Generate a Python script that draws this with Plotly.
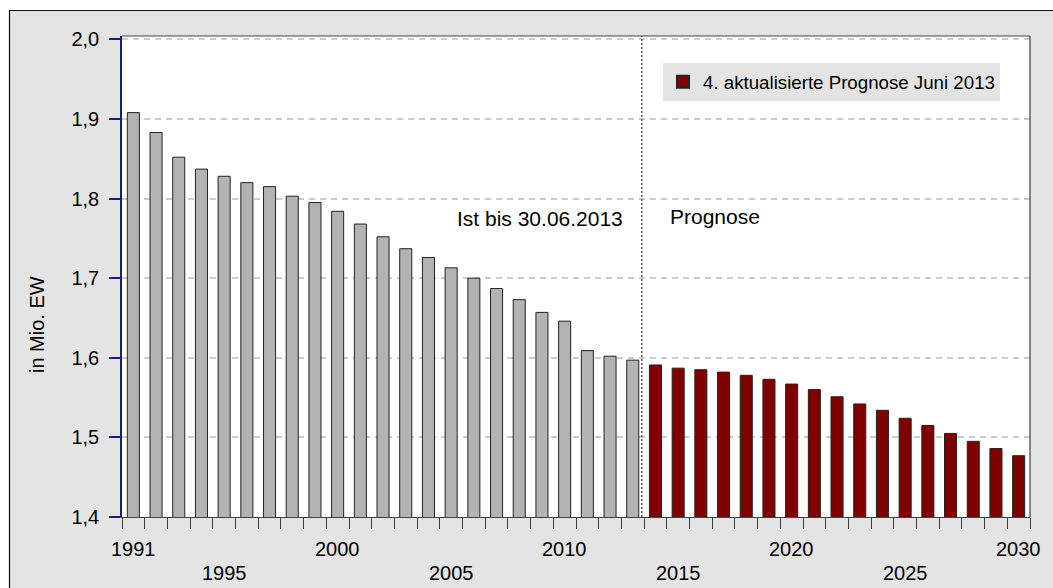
import plotly.graph_objects as go

# ---- data ----
years_actual = list(range(1991, 2014))
values_actual = [1.908, 1.883, 1.852, 1.837, 1.828, 1.820, 1.815, 1.803, 1.795, 1.784,
                 1.768, 1.752, 1.737, 1.726, 1.713, 1.700, 1.687, 1.673, 1.657, 1.646,
                 1.609, 1.602, 1.597]
years_forecast = list(range(2014, 2031))
values_forecast = [1.591, 1.587, 1.585, 1.582, 1.578, 1.573, 1.567, 1.560, 1.551, 1.542,
                   1.534, 1.524, 1.515, 1.505, 1.495, 1.486, 1.477]
forecast_name = "4. aktualisierte Prognose Juni 2013"
labels_row1 = [1991, 2000, 2010, 2020, 2030]
labels_row2 = [1995, 2005, 2015, 2025]
y_ticks = [1.4, 1.5, 1.6, 1.7, 1.8, 1.9, 2.0]
y_title = "in Mio. EW"
text_actual = "Ist bis 30.06.2013"
text_forecast = "Prognose"
split_year = 2013.4

FONT = "Liberation Sans, Arial, sans-serif"
W, H = 1053, 588
L, R, T, B = 122, 23, 36, 71
PW, PH = W - L - R, H - T - B

def px_x(p):
    return (p - L) / PW

def px_y(p):
    return (H - B - p) / PH

fig = go.Figure()
fig.add_trace(go.Bar(x=years_actual, y=values_actual, width=0.53,
                     marker=dict(color="#b3b3b3", line=dict(color="#222222", width=1)),
                     showlegend=False, name="Ist"))
fig.add_trace(go.Bar(x=years_forecast, y=values_forecast, width=0.53,
                     marker=dict(color="#800000", line=dict(color="#222222", width=1)),
                     showlegend=True, name=forecast_name))

boundaries = [y - 0.5 for y in range(years_actual[0], years_forecast[-1] + 2)]

fig.update_xaxes(type="linear", range=[years_actual[0] - 0.5, years_forecast[-1] + 0.5],
                 tickmode="array", tickvals=boundaries, showticklabels=False,
                 ticks="outside", ticklen=11, tickwidth=1.2, tickcolor="#404040",
                 showline=True, linecolor="#404040", linewidth=1.2,
                 showgrid=False, zeroline=False)
fig.update_yaxes(range=[1.4, 2.0042], tickmode="array", tickvals=y_ticks, tickformat=".1f",
                 ticks="outside", ticklen=11, tickwidth=1.6, tickcolor="#1a1a80",
                 showline=True, linecolor="#1a1a80", linewidth=1.5,
                 showgrid=True, gridcolor="#cccccc", gridwidth=2, griddash="6px,5px",
                 zeroline=False, ticklabelstandoff=6,
                 tickfont=dict(family=FONT, size=20, color="#000000"))

annotations = []
for yr in labels_row1:
    annotations.append(dict(x=yr, xref="x", y=px_y(549), yref="paper", text=str(yr),
                            showarrow=False, xanchor="center", yanchor="middle",
                            font=dict(family=FONT, size=20, color="#000000")))
for yr in labels_row2:
    annotations.append(dict(x=yr, xref="x", y=px_y(573), yref="paper", text=str(yr),
                            showarrow=False, xanchor="center", yanchor="middle",
                            font=dict(family=FONT, size=20, color="#000000")))
annotations.append(dict(x=2012.68, xref="x", y=1.7753, yref="y", text=text_actual,
                        showarrow=False, xanchor="right", yanchor="middle",
                        font=dict(family=FONT, size=21, color="#000000")))
annotations.append(dict(x=2014.55, xref="x", y=1.7778, yref="y", text=text_forecast,
                        showarrow=False, xanchor="left", yanchor="middle",
                        font=dict(family=FONT, size=21, color="#000000")))
annotations.append(dict(x=px_x(37), xref="paper", y=px_y(325), yref="paper", text=y_title,
                        textangle=-90, showarrow=False, xanchor="center", yanchor="middle",
                        font=dict(family=FONT, size=20, color="#000000")))

shapes = [
    # white outside strips (frame starts at 9,10)
    dict(type="rect", xref="paper", yref="paper", x0=px_x(-5), x1=px_x(9), y0=px_y(600), y1=px_y(-5),
         fillcolor="#ffffff", line=dict(width=0), layer="below"),
    dict(type="rect", xref="paper", yref="paper", x0=px_x(-5), x1=px_x(1060), y0=px_y(10), y1=px_y(-5),
         fillcolor="#ffffff", line=dict(width=0), layer="below"),
    # frame border
    dict(type="line", xref="paper", yref="paper", x0=px_x(9.5), x1=px_x(9.5), y0=px_y(10), y1=px_y(600),
         line=dict(color="#111111", width=1.2)),
    dict(type="line", xref="paper", yref="paper", x0=px_x(9), x1=px_x(1060), y0=px_y(10.5), y1=px_y(10.5),
         line=dict(color="#111111", width=1.2)),
    # plot area top and right border
    dict(type="line", xref="paper", yref="paper", x0=0, x1=1, y0=1, y1=1,
         line=dict(color="#404040", width=1.2)),
    dict(type="line", xref="paper", yref="paper", x0=1, x1=1, y0=0, y1=1,
         line=dict(color="#404040", width=1.2)),
    # split line
    dict(type="line", xref="x", yref="paper", x0=split_year, x1=split_year, y0=0, y1=1,
         line=dict(color="#555555", width=1.5, dash="2px,2px")),
]

fig.update_layout(
    width=W, height=H, autosize=False,
    margin=dict(l=L, r=R, t=T, b=B, pad=0),
    paper_bgcolor="#e4e4e4", plot_bgcolor="#ffffff",
    separators=",.",
    barmode="overlay",
    font=dict(family=FONT, size=20, color="#000000"),
    showlegend=True,
    legend=dict(x=px_x(663), xanchor="left", y=px_y(63), yanchor="top",
                bgcolor="#e4e4e4", borderwidth=0,
                font=dict(family=FONT, size=18.7, color="#000000"),
                itemsizing="constant"),
    annotations=annotations,
    shapes=shapes,
)

fig.write_html("out.html")
